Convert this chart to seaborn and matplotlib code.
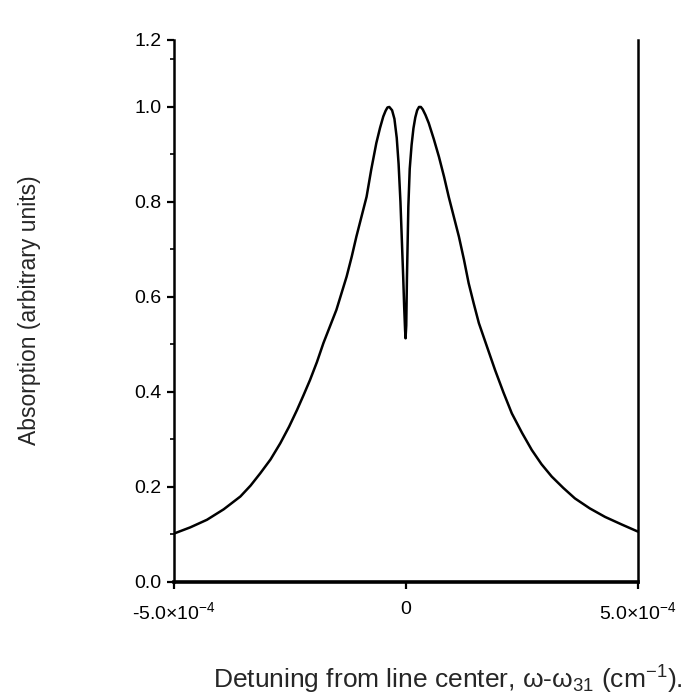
"""
Absorption line shape with a narrow dip at line center.
"""
import matplotlib
matplotlib.use("Agg")
import matplotlib.pyplot as plt
import numpy as np
import pandas as pd
import seaborn as sns
from matplotlib.ticker import FixedLocator

# values (detuning in cm^-1, absorption in arb. units)
detuning = [
    -5.0e-4, -4.65e-4, -4.29e-4, -3.93e-4, -3.57e-4, -3.35e-4, -3.14e-4,
    -2.92e-4, -2.71e-4, -2.52e-4, -2.35e-4, -2.21e-4, -2.07e-4, -1.92e-4,
    -1.78e-4, -1.64e-4, -1.50e-4, -1.39e-4, -1.28e-4, -1.17e-4, -1.07e-4,
    -0.96e-4, -0.85e-4, -0.75e-4, -0.64e-4, -0.56e-4, -0.49e-4, -0.44e-4,
    -0.40e-4, -0.36e-4, -0.30e-4, -0.25e-4, -0.20e-4, -0.16e-4, -0.12e-4,
    -0.09e-4, -0.06e-4, -0.04e-4, -0.02e-4, -0.01e-4, 0.005e-4, 0.02e-4,
    0.05e-4, 0.08e-4, 0.12e-4, 0.16e-4, 0.20e-4, 0.24e-4, 0.28e-4, 0.32e-4,
    0.36e-4, 0.42e-4, 0.49e-4, 0.60e-4, 0.71e-4, 0.82e-4, 0.92e-4, 1.03e-4,
    1.14e-4, 1.25e-4, 1.35e-4, 1.46e-4, 1.57e-4, 1.75e-4, 1.92e-4, 2.10e-4,
    2.28e-4, 2.50e-4, 2.71e-4, 2.92e-4, 3.14e-4, 3.39e-4, 3.64e-4, 3.96e-4,
    4.29e-4, 4.65e-4, 5.0e-4,
]
absorption = [
    0.102, 0.115, 0.131, 0.153, 0.180, 0.203, 0.229,
    0.258, 0.292, 0.327, 0.362, 0.393, 0.425, 0.463,
    0.503, 0.538, 0.573, 0.608, 0.643, 0.685, 0.727,
    0.769, 0.811, 0.868, 0.924, 0.956, 0.980, 0.992,
    0.999, 1.0, 0.993, 0.975, 0.935, 0.880, 0.800,
    0.720, 0.640, 0.580, 0.530, 0.513, 0.540, 0.640,
    0.790, 0.870, 0.920, 0.955, 0.978, 0.993, 1.0, 1.0,
    0.995, 0.983, 0.966, 0.932, 0.895, 0.853, 0.811, 0.769,
    0.727, 0.678, 0.629, 0.586, 0.545, 0.494, 0.446, 0.399,
    0.355, 0.314, 0.278, 0.248, 0.222, 0.198, 0.176, 0.155,
    0.137, 0.121, 0.106,
]

y_major = [0.0, 0.2, 0.4, 0.6, 0.8, 1.0]
y_major_labels = ["0.0", "0.2", "0.4", "0.6", "0.8", "1.0", "1.2"]
y_minor = [0.1, 0.3, 0.5, 0.7, 0.9, 1.1]
x_ticks = [-5.0e-4, 0.0, 5.0e-4]
x_tick_labels = ["-5.0×10$^{-4}$", "0", "5.0×10$^{-4}$"]

df = pd.DataFrame({"detuning": detuning, "absorption": absorption})

sns.set_style("ticks")
plt.rcParams["font.family"] = ["Liberation Sans", "DejaVu Sans"]
plt.rcParams["mathtext.fontset"] = "custom"
plt.rcParams["mathtext.rm"] = "Liberation Sans"
plt.rcParams["mathtext.it"] = "Liberation Sans:italic"
plt.rcParams["mathtext.default"] = "regular"

fig = plt.figure(figsize=(6.95, 6.98), dpi=100)
ax = fig.add_axes([0.2504, 0.1662, 0.6676, 0.7765])

sns.lineplot(data=df, x="detuning", y="absorption", color="black",
             linewidth=1.8, sort=False, ax=ax)

# the top of the printed axis sits a little below 1.2 on the data scale
y_top = 1.141
ax.set_xlim(-5.0e-4, 5.0e-4)
ax.set_ylim(0, y_top)

ax.yaxis.set_major_locator(FixedLocator(y_major + [y_top]))
ax.set_yticklabels(y_major_labels)
ax.yaxis.set_minor_locator(FixedLocator(y_minor))
ax.set_xticks(x_ticks)
ax.set_xticklabels(x_tick_labels)

ax.tick_params(axis="both", which="major", direction="out", length=5,
               width=1.6, labelsize=14, color="black", labelcolor="black")
ax.tick_params(axis="y", which="minor", direction="out", length=3, width=1.4)
ax.tick_params(axis="x", which="major", pad=9)
ax.tick_params(axis="y", which="major", pad=4)

ax.spines["top"].set_visible(False)
for side in ["left", "right"]:
    ax.spines[side].set_linewidth(1.8)
    ax.spines[side].set_color("black")
ax.spines["bottom"].set_linewidth(2.6)
ax.spines["bottom"].set_color("black")

ax.set_xlabel("")
ax.set_ylabel("")
fig.text(0.644, 0.026, "Detuning from line center, ω-ω$_{31}$ (cm$^{-1}$).",
         fontsize=19, ha="center", va="center")
fig.text(0.043, 0.556, "Absorption (arbitrary units)", fontsize=16.5,
         rotation=90, ha="center", va="center")

fig.savefig("out.png", dpi=100)
